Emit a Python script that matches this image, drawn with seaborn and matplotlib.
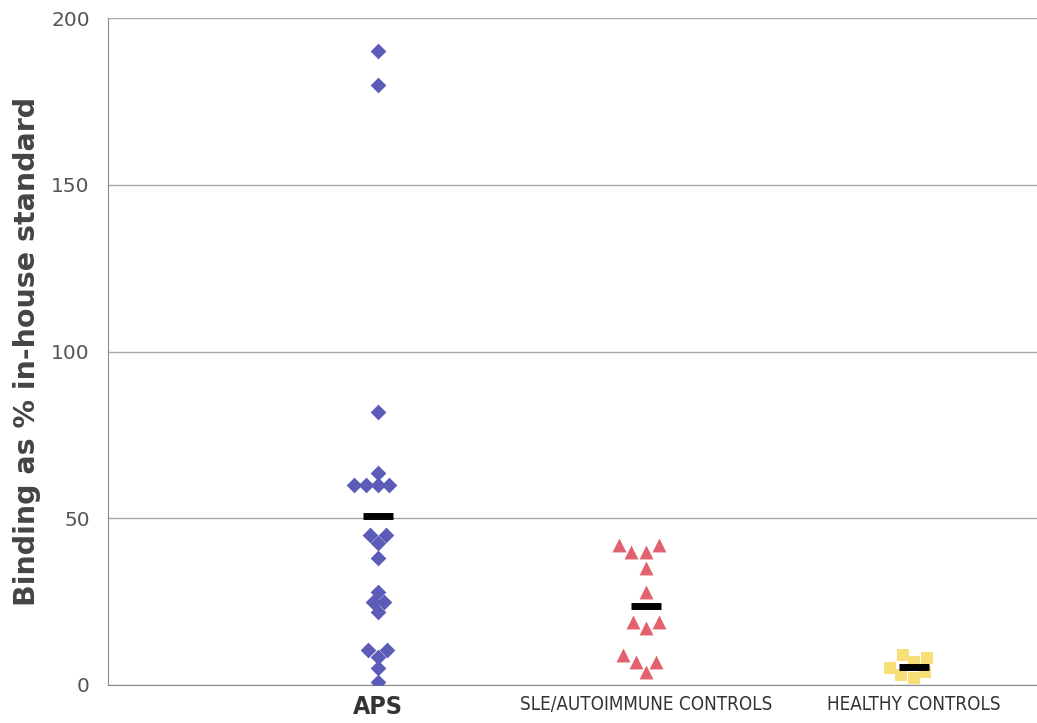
import pandas as pd
import seaborn as sns
import matplotlib.pyplot as plt

# values
groups = ["APS", "SLE/AUTOIMMUNE CONTROLS", "HEALTHY CONTROLS"]
aps = [190, 180, 82, 60, 60, 63.5, 60, 60, 45, 45, 42.5, 38, 28, 25, 25, 22, 10.5, 10.5, 8.5, 5, 1]
sle = [42, 42, 40, 40, 35, 28, 19, 19, 17, 9, 7, 7, 4]
healthy = [9, 8, 7, 5, 4, 3, 2]

colors = {"APS": "#5c5cb8", "SLE/AUTOIMMUNE CONTROLS": "#e3606e",
          "HEALTHY CONTROLS": "#f8df78"}
markers = {"APS": "D", "SLE/AUTOIMMUNE CONTROLS": "^", "HEALTHY CONTROLS": "s"}
sizes = {"APS": 8, "SLE/AUTOIMMUNE CONTROLS": 10, "HEALTHY CONTROLS": 9}

df = pd.DataFrame({
    "group": [groups[0]] * len(aps) + [groups[1]] * len(sle) + [groups[2]] * len(healthy),
    "value": aps + sle + healthy,
})

sns.set_style("white")
fig = plt.figure(figsize=(10.37, 7.23), dpi=100)
ax = fig.add_axes([0.104, 0.0526, 0.896, 0.9224])

for g in groups:
    sns.swarmplot(data=df[df["group"] == g], x="group", y="value", order=groups,
                  marker=markers[g], color=colors[g], size=sizes[g], linewidth=0, ax=ax)

# mean bars
sns.pointplot(data=df, x="group", y="value", order=groups, estimator="mean",
              errorbar=None, color="black", markers="_", linestyle="none",
              markersize=22, markeredgewidth=5, zorder=10, ax=ax)

ax.set_ylim(0, 200)
ax.set_yticks([0, 50, 100, 150, 200])
ax.set_xlim(-1.007, 2.459)
ax.yaxis.grid(True, color="#a8a8a8", linewidth=1)
ax.set_axisbelow(True)
for s in ["top", "right"]:
    ax.spines[s].set_visible(False)
ax.spines["left"].set_color("#8c8c8c")
ax.spines["bottom"].set_color("#8c8c8c")
ax.tick_params(axis="y", direction="inout", length=8, color="#8c8c8c", pad=9,
               labelsize=14.5, labelcolor="#555555")
ax.tick_params(axis="x", length=0, pad=7)

ax.set_xlabel("")
ax.set_ylabel("Binding as % in-house standard", fontsize=20.5, fontweight="bold",
              color="#444444", labelpad=7)

labels = ax.get_xticklabels()
labels[0].set_fontsize(18)
labels[0].set_fontweight("bold")
labels[0].set_fontstretch("condensed")
labels[0].set_color("#333333")
for lab in labels[1:]:
    lab.set_fontstretch("condensed")
    lab.set_fontsize(13.5)
    lab.set_color("#333333")

plt.savefig("out.png", dpi=100)
